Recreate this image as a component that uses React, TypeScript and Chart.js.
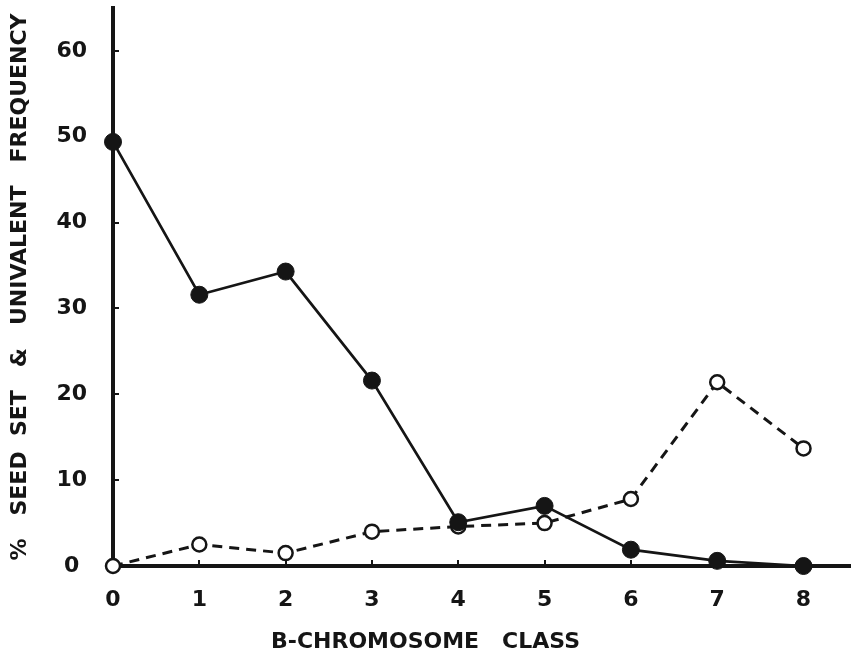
import React, { useEffect, useRef } from 'react';
import { Chart, registerables } from 'chart.js';

Chart.register(...registerables);

// B-chromosome classes (x categories)
const classes = [0, 1, 2, 3, 4, 5, 6, 7, 8];
// % seed set (filled circles, solid line)
const seedSet = [49.4, 31.6, 34.3, 21.6, 5.1, 7.0, 1.9, 0.6, 0.0];
// univalent frequency (open circles, dashed line)
const univalentFreq = [0.0, 2.5, 1.5, 4.0, 4.6, 5.0, 7.8, 21.4, 13.7];
// y-axis tick labels
const yTicks = [0, 10, 20, 30, 40, 50, 60];

const xTitle = 'B-CHROMOSOME   CLASS';
const yTitle = '%   SEED  SET   &   UNIVALENT   FREQUENCY';

const INK = '#151515';
const FONT = "'DejaVu Sans', sans-serif";

export default function App() {
  const ref = useRef<HTMLCanvasElement>(null);

  useEffect(() => {
    if (!ref.current) return;
    const chart = new Chart(ref.current, {
      type: 'line',
      data: {
        datasets: [
          {
            label: 'Seed set',
            data: classes.map((c, i) => ({ x: c, y: seedSet[i] })),
            borderColor: INK,
            borderWidth: 2.7,
            pointRadius: 8.5,
            pointBackgroundColor: INK,
            pointBorderColor: INK,
            pointBorderWidth: 1,
            tension: 0,
            clip: false,
          },
          {
            label: 'Univalent frequency',
            data: classes.map((c, i) => ({ x: c, y: univalentFreq[i] })),
            borderColor: INK,
            borderWidth: 3,
            borderDash: [10, 7],
            pointRadius: 7,
            pointBackgroundColor: '#ffffff',
            pointBorderColor: INK,
            pointBorderWidth: 2.5,
            tension: 0,
            clip: false,
          },
        ],
      },
      options: {
        responsive: false,
        animation: false,
        layout: { autoPadding: false, padding: { top: 8, left: 0, right: 0, bottom: 0 } },
        plugins: {
          legend: { display: false },
          tooltip: { enabled: false },
          title: {
            display: true,
            position: 'bottom',
            text: xTitle,
            color: INK,
            font: { family: FONT, size: 22, weight: 'bold', lineHeight: 1.0 },
            padding: { top: 25, bottom: 0 },
          },
        },
        scales: {
          x: {
            type: 'linear',
            min: 0,
            max: 8.55,
            afterBuildTicks: (s: any) => {
              s.ticks = classes.map((v) => ({ value: v }));
            },
            afterFit: (s: any) => {
              s.height = 40;
              s.paddingLeft = 0;
              s.paddingRight = 0;
              s.paddingTop = 0;
              s.paddingBottom = 0;
            },
            ticks: {
              color: INK,
              font: { family: FONT, size: 22, weight: 'bold' },
              padding: 27,
              maxRotation: 0,
              autoSkip: false,
            },
            grid: {
              drawOnChartArea: false,
              drawTicks: true,
              tickLength: -6,
              color: INK,
              lineWidth: 2,
            },
            border: { display: true, color: INK, width: 4 },
          },
          y: {
            type: 'linear',
            min: 0,
            max: 65,
            afterBuildTicks: (s: any) => {
              s.ticks = yTicks.map((v) => ({ value: v }));
            },
            afterFit: (s: any) => {
              s.width = 113;
              s.paddingLeft = 0;
              s.paddingRight = 0;
              s.paddingTop = 0;
              s.paddingBottom = 0;
            },
            ticks: {
              color: INK,
              font: { family: FONT, size: 22, weight: 'bold' },
              padding: 32,
              crossAlign: 'center',
            },
            grid: {
              drawOnChartArea: false,
              drawTicks: true,
              tickLength: -6,
              color: INK,
              lineWidth: 2,
            },
            border: { display: true, color: INK, width: 4 },
            title: {
              display: true,
              text: yTitle,
              color: INK,
              font: { family: FONT, size: 22, weight: 'bold', lineHeight: 1.1 },
              padding: { top: 8, bottom: 0 },
            },
          },
        },
      },
    });
    return () => chart.destroy();
  }, []);

  return (
    <div style={{ position: 'fixed', left: 0, top: 0, width: 851, height: 653, background: '#ffffff' }}>
      <canvas ref={ref} width={851} height={653} />
    </div>
  );
}
